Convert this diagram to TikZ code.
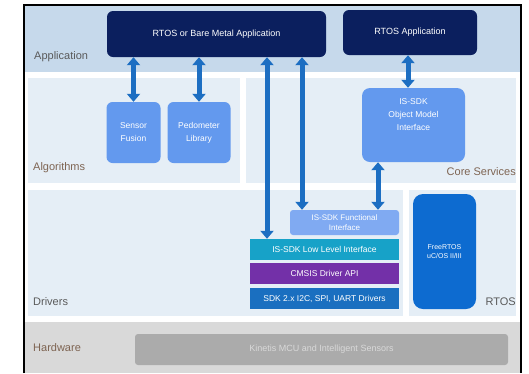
\documentclass[tikz,border=0pt]{standalone}
\usepackage{fontspec}
\setmainfont{Liberation Sans}
\usepackage{tikz}
\usetikzlibrary{arrows.meta,positioning,calc}
\usepackage{xcolor}

\definecolor{bandblue}{HTML}{C6D9EB}
\definecolor{panelblue}{HTML}{E5EEF6}
\definecolor{bandgray}{HTML}{D9D9D9}
\definecolor{navy}{HTML}{0B1F5E}
\definecolor{softblue}{HTML}{6399EE}
\definecolor{paleblue}{HTML}{80AAF2}
\definecolor{tealbox}{HTML}{17A2C8}
\definecolor{purplebox}{HTML}{7330A8}
\definecolor{sdkblue}{HTML}{1A6FC0}
\definecolor{rtosblue}{HTML}{0D6BD0}
\definecolor{hwbox}{HTML}{ABABAB}
\definecolor{arrowblue}{HTML}{1C6EC2}
\definecolor{labelgray}{HTML}{5A5A5A}
\definecolor{labelbrown}{HTML}{7E6452}

\begin{document}
\begin{tikzpicture}[
			x=1pt, y=-1pt,
			every node/.style={inner sep=1pt, align=center, text=white},
			layer/.style={text=labelgray, font=\fontsize{11}{12}\selectfont, anchor=west},
			navybox/.style={fill=navy, rounded corners=6pt, font=\fontsize{9}{10}\selectfont},
			algbox/.style={fill=softblue, rounded corners=6pt, font=\fontsize{8.5}{13}\selectfont},
			flatbox/.style={minimum width=149pt, minimum height=21pt, font=\fontsize{8.5}{9}\selectfont},
			biarrow/.style={draw=arrowblue, line width=5pt,
					{Triangle[width=13pt,length=8pt]}-{Triangle[width=13pt,length=8pt]}}
		]

		\useasboundingbox (0,0) rectangle (529,373);

		% layers
		\fill[bandblue] (25,6) rectangle (520,72);
		\fill[panelblue] (28,78) rectangle (240,183);
		\fill[panelblue] (246,78) rectangle (516,183);
		\fill[panelblue] (28,190) rectangle (403,316);
		\fill[panelblue] (409,190) rectangle (516,316);
		\fill[bandgray] (25,322) rectangle (520,373);
		\draw[line width=1.5pt] (24,373) -- (24,5) -- (521,5) -- (521,373);

		\node[layer] (lapp) at (33,57) {Application};
		\node[layer, text=labelbrown] (lalg) at (32,168) {Algorithms};
		\node[layer, text=labelbrown, anchor=east] (lcore) at (517,172) {Core Services};
		\node[layer] (ldrv) at (32,302) {Drivers};
		\node[layer, anchor=east] (lrtos) at (517,302) {RTOS};
		\node[layer, text=labelbrown] (lhw) at (32,348) {Hardware};

		% boxes
		\node[navybox, minimum width=219pt, minimum height=46pt] (bare) at (216.5,34) {RTOS or Bare Metal Application};
		\node[navybox, minimum width=134pt, minimum height=45pt] (rtosapp) at (410,32.5) {RTOS Application};

		\node[algbox, minimum width=54pt, minimum height=61pt] (sensor) at (133.5,132.5) {Sensor\\Fusion};
		\node[algbox, minimum width=63pt, minimum height=61pt] (pedo) at (199,132.5) {Pedometer\\Library};
		\node[algbox, minimum width=103pt, minimum height=74pt, rounded corners=8pt,
			text depth=20pt] (objmodel) at (413.5,125) {IS-SDK\\Object Model\\Interface};

		\node[algbox, fill=paleblue, minimum width=109pt, minimum height=25pt, rounded corners=3pt,
			font=\fontsize{8}{10}\selectfont] (func) at (344.5,222.5) {IS-SDK Functional\\Interface};
		\node[flatbox, fill=tealbox] (lowlvl) at (324.5,249.5) {IS-SDK Low Level Interface};
		\node[flatbox, fill=purplebox] (cmsis) at (324.5,273.5) {CMSIS Driver API};
		\node[flatbox, fill=sdkblue] (sdkdrv) at (324.5,298.5) {SDK 2.x I2C, SPI, UART Drivers};

		\node[fill=rtosblue, rounded corners=10pt, minimum width=63pt, minimum height=115pt,
			font=\fontsize{7}{9}\selectfont] (freertos) at (444.5,251.5) {FreeRTOS\\uC/OS II/III};

		\node[fill=hwbox, text=bandgray, rounded corners=3pt, minimum width=373pt, minimum height=31pt,
			font=\fontsize{9}{10}\selectfont] (kinetis) at (321.5,349.5) {Kinetis MCU and Intelligent Sensors};

		% links
		\coordinate (k1) at (267,0);
		\coordinate (k2) at (302,0);
		\coordinate (k3) at (378,0);
		\coordinate (k4) at (408,0);

		\draw[biarrow] (bare.south -| sensor.north) -- (sensor.north);
		\draw[biarrow] (bare.south -| pedo.north) -- (pedo.north);
		\draw[biarrow] (rtosapp.south -| k4) -- (objmodel.north -| k4);
		\draw[biarrow] (bare.south -| k1) -- (lowlvl.north -| k1);
		\draw[biarrow] (bare.south -| k2) -- (func.north -| k2);
		\draw[biarrow] (objmodel.south -| k3) -- (func.north -| k3);

	\end{tikzpicture}
\end{document}
